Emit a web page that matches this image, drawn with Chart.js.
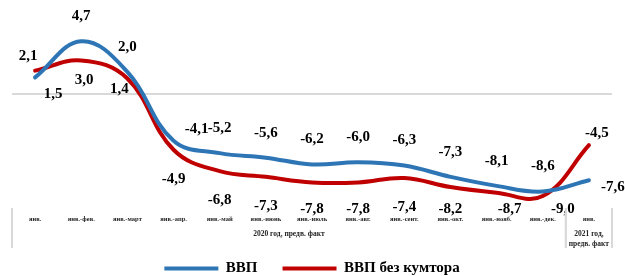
<!DOCTYPE html>
<html>
<head>
<meta charset="utf-8">
<script src="https://cdn.jsdelivr.net/npm/chart.js@4"></script>
<style>
  body { margin: 0; background: #fff; }
</style>
</head>
<body>
<canvas id="gdp-chart" width="625" height="276"></canvas>
<script>
const months = ["янв.", "янв.-фев.", "янв.-март", "янв.-апр.", "янв.-май", "янв.-июнь", "янв.-июль",
  "янв.-авг.", "янв.-сент.", "янв.-окт.", "янв.-нояб.", "янв.-дек.", "янв."];
const gdp = [1.5, 4.7, 2.0, -4.1, -5.2, -5.6, -6.2, -6.0, -6.3, -7.3, -8.1, -8.6, -7.6];
const gdpNoKumtor = [2.1, 3.0, 1.4, -4.9, -6.8, -7.3, -7.8, -7.8, -7.4, -8.2, -8.7, -9.0, -4.5];
const periods = [
  { text: ["2020 год, предв. факт"], from: 0, to: 11 },
  { text: ["2021 год,", "предв. факт"], from: 12, to: 12 }
];

const serif = "'Liberation Serif', 'Times New Roman', serif";

// where each value label sits relative to its point
const labelShift = [
  { def: { dx: 0, dy: -25 }, 0: { dx: 18, dy: 17 }, 3: { dx: 23, dy: -12 }, 12: { dx: 24, dy: 7 } },
  { def: { dx: 0, dy: 29 }, 0: { dx: -7, dy: -15 }, 1: { dx: 3, dy: 20 }, 2: { dx: -8, dy: 11 },
    10: { dx: 13, dy: 29 }, 11: { dx: 20, dy: 29 }, 12: { dx: 8, dy: -12 } }
];

const valueLabels = {
  id: "valueLabels",
  afterDatasetsDraw(chart) {
    const ctx = chart.ctx;
    const area = chart.chartArea;
    ctx.save();
    ctx.font = "bold 15px " + serif;
    ctx.fillStyle = "#000";
    ctx.textAlign = "center";
    ctx.textBaseline = "middle";
    chart.data.datasets.forEach((ds, d) => {
      chart.getDatasetMeta(d).data.forEach((pt, i) => {
        const s = labelShift[d][i] || labelShift[d].def;
        const y = Math.min(pt.y + s.dy, area.bottom - 4);
        ctx.fillText(ds.data[i].toFixed(1).replace(".", ","), pt.x + s.dx, y);
      });
    });
    ctx.restore();
  }
};

const periodAxis = {
  id: "periodAxis",
  afterDraw(chart) {
    const ctx = chart.ctx;
    const x = chart.scales.x;
    const area = chart.chartArea;
    const top = area.bottom - 5;
    const bottom = area.bottom + 35;
    ctx.save();
    ctx.strokeStyle = "#d9d9d9";
    ctx.lineWidth = 2;
    ctx.fillStyle = "#262626";
    ctx.font = "bold 7.5px " + serif;
    ctx.textAlign = "center";
    ctx.textBaseline = "middle";
    periods.forEach((p) => {
      const half = (x.getPixelForValue(1) - x.getPixelForValue(0)) / 2;
      const left = x.getPixelForValue(p.from) - half;
      const right = x.getPixelForValue(p.to) + half;
      [left, right].forEach((lx) => {
        ctx.beginPath();
        ctx.moveTo(lx, top);
        ctx.lineTo(lx, bottom);
        ctx.stroke();
      });
      p.text.forEach((t, k) => {
        ctx.fillText(t, (left + right) / 2, area.bottom + 21 + k * 10);
      });
    });
    ctx.restore();
  }
};

new Chart(document.getElementById("gdp-chart"), {
  type: "line",
  data: {
    labels: months,
    datasets: [
      {
        label: "ВВП",
        data: gdp,
        borderColor: "#2e75b6",
        backgroundColor: "#2e75b6",
        borderWidth: 4,
        borderCapStyle: "round",
        pointRadius: 0,
        tension: 0.4
      },
      {
        label: "ВВП без кумтора",
        data: gdpNoKumtor,
        borderColor: "#c00000",
        backgroundColor: "#c00000",
        borderWidth: 4,
        borderCapStyle: "round",
        pointRadius: 0,
        tension: 0.4
      }
    ]
  },
  options: {
    responsive: false,
    animation: false,
    layout: { padding: { left: 12, right: 13, top: 4, bottom: -10 } },
    scales: {
      x: {
        offset: true,
        grid: { display: false },
        border: { display: false },
        ticks: {
          autoSkip: false,
          maxRotation: 0,
          padding: -6,
          color: "#262626",
          font: { family: serif, size: 6.5, weight: "bold" }
        },
        afterFit: (s) => { s.height = 23; }
      },
      y: {
        min: -10.5,
        max: 8,
        border: { display: false },
        ticks: { display: false },
        grid: {
          drawTicks: false,
          lineWidth: 2,
          color: (c) => (c.tick && c.tick.value === 0 ? "#d9d9d9" : "transparent")
        },
        afterFit: (s) => { s.width = 0; }
      }
    },
    plugins: {
      tooltip: { enabled: false },
      legend: {
        position: "bottom",
        labels: {
          usePointStyle: true,
          pointStyle: "line",
          pointStyleWidth: 54,
          padding: 25,
          color: "#000",
          font: { family: serif, size: 15, weight: "bold" }
        }
      }
    }
  },
  plugins: [valueLabels, periodAxis]
});
</script>
</body>
</html>
